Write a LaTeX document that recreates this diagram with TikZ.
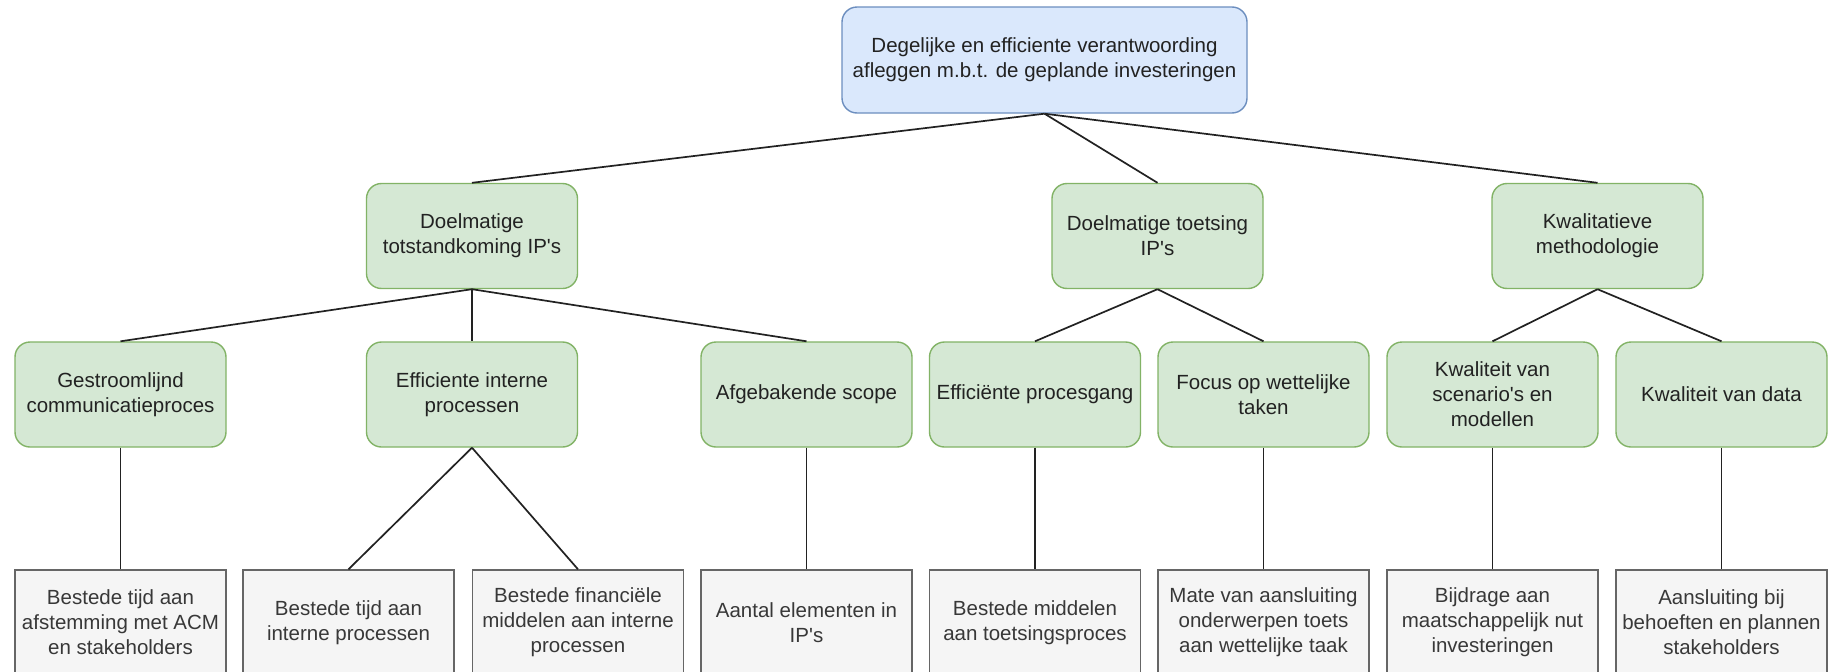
\documentclass[tikz,border=0pt]{standalone}
\usepackage{fontspec}
\setmainfont{Liberation Sans}
\newcommand{\apos}{\textquotesingle}
\begin{document}
\begin{tikzpicture}[x=1pt,y=-1pt,
  txt/.style={font=\fontsize{20.5}{25}\selectfont, align=center, inner sep=0pt},
  goalbox/.style={txt, draw=goalline, fill=goalfill, line width=1.4pt, rounded corners=15pt,
    minimum width=405pt, minimum height=106pt, text=textdark},
  subbox/.style={txt, draw=subline, fill=subfill, line width=1.4pt, rounded corners=15pt,
    minimum width=211pt, minimum height=105pt, text=textdark},
  kpibox/.style={txt, draw=kpiline, fill=kpifill, line width=1.4pt,
    minimum width=211pt, minimum height=105pt, text=textgray},
  link/.style={draw=linkcol, line width=1.7pt}]
\definecolor{goalfill}{HTML}{DAE8FC}
\definecolor{goalline}{HTML}{6C8EBF}
\definecolor{subfill}{HTML}{D5E8D4}
\definecolor{subline}{HTML}{82B366}
\definecolor{kpifill}{HTML}{F5F5F5}
\definecolor{kpiline}{HTML}{666666}
\definecolor{textdark}{HTML}{222222}
\definecolor{textgray}{HTML}{383838}
\definecolor{linkcol}{HTML}{222222}

\useasboundingbox (0,0) rectangle (1840,672);
\clip (0,0) rectangle (1840,672);
\fill[white] (0,0) rectangle (1840,672);

% main goal
\node[goalbox] (goal) at (1044.5,60) {Degelijke en efficiente verantwoording\\afleggen m.b.t. de geplande investeringen};

% sub goals
\node[subbox] (tot) at (472,236) {Doelmatige\\totstandkoming IP\apos s};
\node[subbox] (toets) at (1157.5,236) {Doelmatige toetsing\\IP\apos s};
\node[subbox] (kwal) at (1597.5,236) {Kwalitatieve\\methodologie};

% criteria
\node[subbox] (comm) at (120.5,394.5) {Gestroomlijnd\\communicatieproces};
\node[subbox] (intern) at (472,394.5) {Efficiente interne\\processen};
\node[subbox] (scope) at (806.5,394.5) {Afgebakende scope};
\node[subbox] (gang) at (1035,394.5) {Efficiënte procesgang};
\node[subbox] (focus) at (1263.5,394.5) {Focus op wettelijke\\taken};
\node[subbox] (scen) at (1492.5,394.5) {Kwaliteit van\\scenario\apos s en\\modellen};
\node[subbox] (data) at (1721.5,394.5) {Kwaliteit van data};

% indicators (cut off at the lower edge)
\node[kpibox] (k1) at (120.5,622.5) {Bestede tijd aan\\afstemming met ACM\\en stakeholders};
\node[kpibox] (k2) at (348.5,622.5) {Bestede tijd aan\\interne processen};
\node[kpibox] (k3) at (578,622.5) {Bestede financiële\\middelen aan interne\\processen};
\node[kpibox] (k4) at (806.5,622.5) {Aantal elementen in\\IP\apos s};
\node[kpibox] (k5) at (1035,622.5) {Bestede middelen\\aan toetsingsproces};
\node[kpibox] (k6) at (1263.5,622.5) {Mate van aansluiting\\onderwerpen toets\\aan wettelijke taak};
\node[kpibox] (k7) at (1492.5,622.5) {Bijdrage aan\\maatschappelijk nut\\investeringen};
\node[kpibox] (k8) at (1721.5,622.5) {Aansluiting bij\\behoeften en plannen\\stakeholders};

% connectors
\foreach \c in {tot,toets,kwal} \draw[link] (goal.south) -- (\c.north);
\foreach \c in {comm,intern,scope} \draw[link] (tot.south) -- (\c.north);
\foreach \c in {gang,focus} \draw[link] (toets.south) -- (\c.north);
\foreach \c in {scen,data} \draw[link] (kwal.south) -- (\c.north);
\draw[link] (comm.south) -- (k1.north);
\draw[link] (intern.south) -- (k2.north);
\draw[link] (intern.south) -- (k3.north);
\draw[link] (scope.south) -- (k4.north);
\draw[link] (gang.south) -- (k5.north);
\draw[link] (focus.south) -- (k6.north);
\draw[link] (scen.south) -- (k7.north);
\draw[link] (data.south) -- (k8.north);
\end{tikzpicture}
\end{document}
